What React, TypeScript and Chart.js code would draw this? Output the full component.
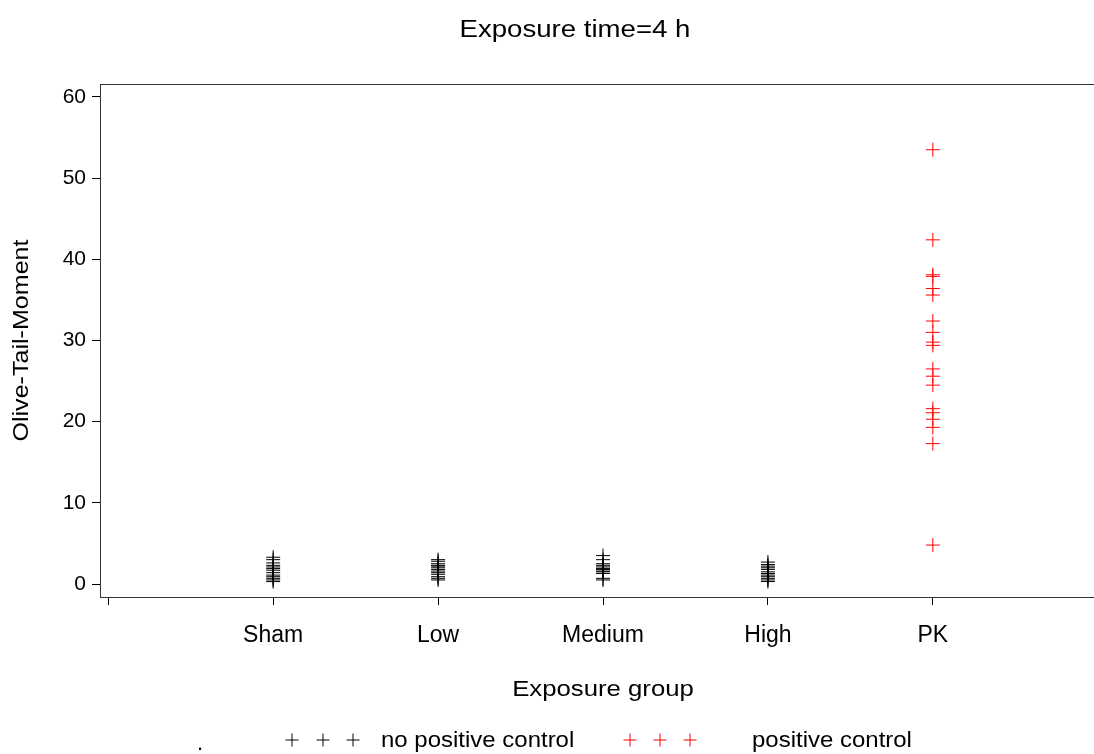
import React, { useEffect, useRef } from "react";
import { Chart, registerables } from "chart.js";

Chart.register(...registerables);

// Category slots on the x axis (blank slots pad both ends)
const categories = ["", "Sham", "Low", "Medium", "High", "PK", ""];

// Olive tail moment per cell, by exposure group
const shamValues = [3.3, 3.0, 2.6, 2.3, 2.1, 1.9, 1.7, 1.4, 1.1, 0.9, 0.7, 0.5, 0.3];
const lowValues = [3.0, 2.8, 2.5, 2.3, 2.2, 2.0, 1.8, 1.6, 1.4, 1.2, 0.9, 0.7, 0.5];
const mediumValues = [3.5, 3.0, 2.5, 2.3, 2.1, 1.9, 1.8, 1.6, 1.5, 1.3, 0.7, 0.5];
const highValues = [2.7, 2.4, 2.2, 2.0, 1.8, 1.5, 1.3, 1.1, 0.9, 0.7, 0.5, 0.3];
const pkValues = [
  53.5, 42.4, 38.1, 37.9, 36.4, 35.6, 32.4, 31.0, 29.8, 29.4, 26.5, 25.6, 24.5,
  21.6, 21.1, 20.3, 19.3, 17.3, 4.8,
];

const yTicks = [0, 10, 20, 30, 40, 50, 60];
const xTicks = [0, 1, 2, 3, 4, 5, 6];

const chartTitle = "Exposure time=4 h";
const xTitle = "Exposure group";
const yTitle = "Olive-Tail-Moment";
const legendNoPk = "no positive control";
const legendPk = "positive control";

const FONT = '"Liberation Sans", Arial, sans-serif';

const toPoints = (x: number, values: number[]) => values.map((y) => ({ x, y }));

function drawCross(ctx: CanvasRenderingContext2D, x: number, y: number, r: number, color: string) {
  ctx.save();
  ctx.strokeStyle = color;
  ctx.lineWidth = 1;
  ctx.beginPath();
  ctx.moveTo(x - r, y);
  ctx.lineTo(x + r, y);
  ctx.moveTo(x, y - r);
  ctx.lineTo(x, y + r);
  ctx.stroke();
  ctx.restore();
}

// Text drawn with a horizontal stretch factor (the labels use a wide face)
function wideText(
  ctx: CanvasRenderingContext2D,
  text: string,
  x: number,
  y: number,
  size: number,
  sx: number,
  align: CanvasTextAlign,
  angle = 0
) {
  ctx.save();
  ctx.translate(x, y);
  if (angle) ctx.rotate(angle);
  ctx.scale(sx, 1);
  ctx.font = `${size}px ${FONT}`;
  ctx.textAlign = align;
  ctx.textBaseline = "middle";
  ctx.fillText(text, 0, 0);
  ctx.restore();
}

const decorations = {
  id: "decorations",
  beforeDatasetsDraw(chart: any) {
    const { ctx, chartArea } = chart;
    ctx.save();
    ctx.strokeStyle = "#333";
    ctx.lineWidth = 1;
    ctx.strokeRect(
      Math.round(chartArea.left) + 0.5,
      Math.round(chartArea.top) + 0.5,
      Math.round(chartArea.right - chartArea.left),
      Math.round(chartArea.bottom - chartArea.top)
    );
    ctx.restore();
  },
  afterDraw(chart: any) {
    const { ctx, chartArea, scales } = chart;
    ctx.save();
    ctx.fillStyle = "#000";

    // main title
    wideText(ctx, chartTitle, 575, 31, 23, 1.2, "center");

    // x axis title, centred on the middle slot
    wideText(ctx, xTitle, scales.x.getPixelForValue(3), 690, 22, 1.17, "center");

    // y axis title
    wideText(ctx, yTitle, 22, (chartArea.top + chartArea.bottom) / 2, 22, 1.14, "center", -Math.PI / 2);

    // legend
    const ly = 740;
    [292, 323, 353].forEach((x) => drawCross(ctx, x, ly, 6.5, "#000"));
    [630, 660, 690].forEach((x) => drawCross(ctx, x, ly, 6.5, "#ff0000"));
    wideText(ctx, legendNoPk, 381, ly + 1, 22, 1.09, "left");
    wideText(ctx, legendPk, 752, ly + 1, 22, 1.09, "left");
    wideText(ctx, ".", 197, 744, 22, 1, "left");
    ctx.restore();
  },
};

export default function App() {
  const canvasRef = useRef<HTMLCanvasElement | null>(null);

  useEffect(() => {
    document.body.style.margin = "0";
    const canvas = canvasRef.current;
    if (!canvas) return;

    const chart = new Chart(canvas, {
      type: "scatter",
      data: {
        datasets: [
          {
            label: legendNoPk,
            data: [
              ...toPoints(1, shamValues),
              ...toPoints(2, lowValues),
              ...toPoints(3, mediumValues),
              ...toPoints(4, highValues),
            ],
            pointStyle: "cross",
            pointRadius: 7,
            pointHoverRadius: 7,
            borderWidth: 1,
            borderColor: "#000",
            backgroundColor: "#000",
          },
          {
            label: legendPk,
            data: toPoints(5, pkValues),
            pointStyle: "cross",
            pointRadius: 7,
            pointHoverRadius: 7,
            borderWidth: 1,
            borderColor: "#ff0000",
            backgroundColor: "#ff0000",
          },
        ],
      },
      options: {
        responsive: false,
        animation: false,
        layout: { padding: { left: 0, top: 84, right: 44, bottom: 0 } },
        plugins: {
          legend: { display: false },
          title: { display: false },
          tooltip: { enabled: false },
        },
        scales: {
          x: {
            type: "linear",
            min: -0.05,
            max: 6.05,
            afterBuildTicks: (scale: any) => {
              scale.ticks = xTicks.map((value) => ({ value }));
            },
            afterFit: (scale: any) => {
              scale.height = 157;
            },
            border: { display: false },
            grid: {
              drawOnChartArea: false,
              drawTicks: true,
              tickLength: 8,
              color: "#000",
              lineWidth: 1,
            },
            ticks: {
              autoSkip: false,
              maxRotation: 0,
              padding: 17,
              color: "#000",
              font: { family: FONT, size: 23 },
              callback: (value: any) => categories[Math.round(Number(value))] ?? "",
            },
          },
          y: {
            type: "linear",
            min: -1.6,
            max: 61.6,
            afterBuildTicks: (scale: any) => {
              scale.ticks = yTicks.map((value) => ({ value }));
            },
            afterFit: (scale: any) => {
              scale.width = 100;
            },
            border: { display: false },
            grid: {
              drawOnChartArea: false,
              drawTicks: true,
              tickLength: 8,
              color: "#000",
              lineWidth: 1,
            },
            ticks: {
              padding: 6,
              color: "#000",
              font: { family: FONT, size: 21 },
            },
          },
        },
      },
      plugins: [decorations],
    });

    return () => chart.destroy();
  }, []);

  return (
    <div
      style={{
        position: "absolute",
        left: 0,
        top: 0,
        width: 1094,
        height: 754,
        overflow: "hidden",
        background: "#fff",
      }}
    >
      <canvas ref={canvasRef} width={1150} height={754} style={{ display: "block" }} />
    </div>
  );
}
